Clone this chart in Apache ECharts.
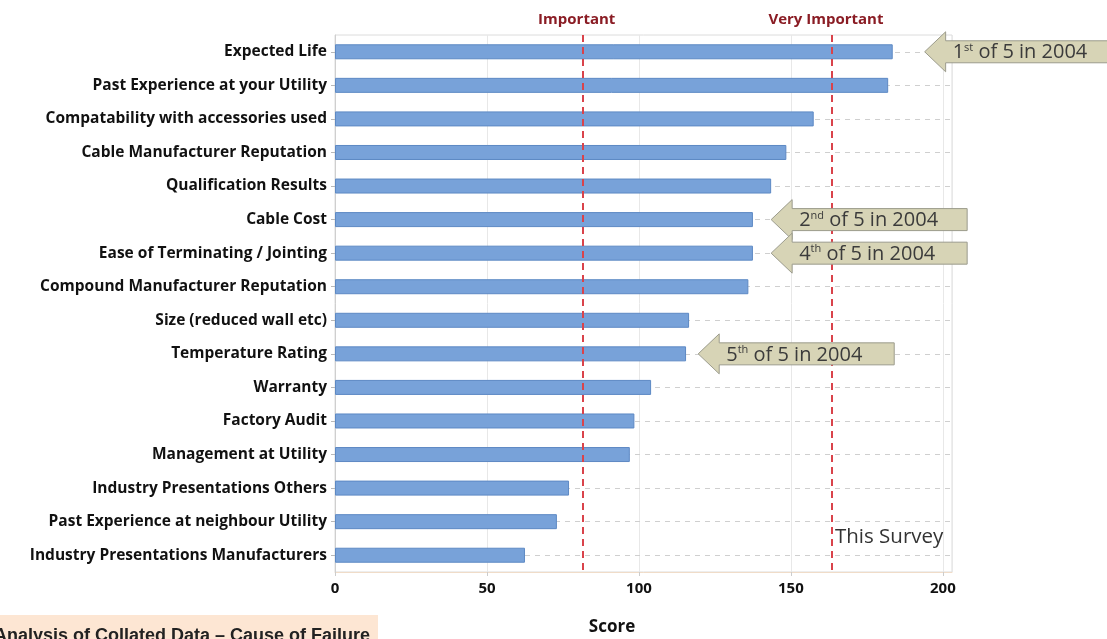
<!DOCTYPE html>
<html>
<head>
<meta charset="utf-8">
<script src="https://cdn.jsdelivr.net/npm/echarts@6/dist/echarts.min.js"></script>
<style>
  html, body { margin: 0; padding: 0; background: #fff; }
  #chart { width: 1107px; height: 639px; }
</style>
</head>
<body>
<div id="chart"></div>
<script>
// survey factors, top to bottom
var categories = [
  "Expected Life",
  "Past Experience at your Utility",
  "Compatability with accessories used",
  "Cable Manufacturer Reputation",
  "Qualification Results",
  "Cable Cost",
  "Ease of Terminating / Jointing",
  "Compound Manufacturer Reputation",
  "Size (reduced wall etc)",
  "Temperature Rating",
  "Warranty",
  "Factory Audit",
  "Management at Utility",
  "Industry Presentations Others",
  "Past Experience at neighbour Utility",
  "Industry Presentations Manufacturers"
];
var scores = [183.5, 182, 157.5, 148.5, 143.5, 137.5, 137.5, 136, 116.5, 115.5, 104, 98.5, 97, 77, 73, 62.5];

var xTicks = [0, 50, 100, 150, 200];
var thresholds = [81.5, 163.5];
var thresholdNames = ["Important", "Very Important"];

// 2004 ranks pointed out by the arrows
var notes = [
  { cat: "Expected Life", rank: "1", sup: "st" },
  { cat: "Cable Cost", rank: "2", sup: "nd" },
  { cat: "Ease of Terminating / Jointing", rank: "4", sup: "th" },
  { cat: "Temperature Rating", rank: "5", sup: "th" }
];

var chart = echarts.init(document.getElementById("chart"));
var boldFont = "'Liberation Sans', Arial, sans-serif";
var openFont = "'Open Sans', Lato, sans-serif";

var option = {
  animation: false,
  grid: {
    left: 335, right: 155, top: 35, bottom: 67,
    show: true, borderColor: "#dcdcdc", borderWidth: 1
  },
  xAxis: {
    type: "value",
    min: 0,
    max: 203,
    interval: 50,
    axisLine: { show: true, lineStyle: { color: "#f0dcc8" } },
    axisTick: { show: true, length: 4, lineStyle: { color: "#cccccc" } },
    axisLabel: {
      showMaxLabel: false,
      margin: 9,
      color: "#111",
      fontFamily: openFont,
      fontWeight: "bold",
      fontSize: 15,
      formatter: function (v) { return xTicks.indexOf(v) >= 0 ? String(v) : ""; }
    },
    splitLine: { show: true, lineStyle: { color: "#e8e8e8", width: 1 } }
  },
  yAxis: {
    type: "category",
    data: categories,
    inverse: true,
    axisLine: { show: true, lineStyle: { color: "#cfcfcf" } },
    axisTick: { show: true, alignWithLabel: true, length: 4, lineStyle: { color: "#b8b8b8" } },
    axisLabel: {
      margin: 8,
      color: "#111",
      fontFamily: openFont,
      fontWeight: "bold",
      fontSize: 15.5
    },
    splitLine: { show: false }
  },
  series: [
    {
      // dashed row guides behind the bars
      type: "line",
      data: [],
      z: 1,
      silent: true,
      markLine: {
        z: 1,
        symbol: "none",
        silent: true,
        label: { show: false },
        lineStyle: { color: "#cfcfcf", type: [5, 5], width: 1 },
        data: categories.map(function (c) { return { yAxis: c }; })
      }
    },
    {
      type: "bar",
      data: scores,
      barWidth: 15,
      z: 3,
      itemStyle: { color: "#78a2d9", borderColor: "#5d89c4", borderWidth: 1 },
      markLine: {
        z: 4,
        symbol: "none",
        silent: true,
        lineStyle: { color: "#d9434b", type: [7, 5], width: 2 },
        label: {
          show: true,
          position: "start",
          distance: 8,
          offset: [-6, 0],
          color: "#8a1c24",
          fontFamily: openFont,
          fontWeight: "bold",
          fontSize: 15,
          formatter: function (p) { return thresholdNames[p.dataIndex]; }
        },
        data: thresholds.map(function (t) { return { xAxis: t }; })
      }
    }
  ]
};
chart.setOption(option);

// arrows and the other free text
function drawNotes() {
  var els = [];
  var headLen = 21, headHalf = 20, bodyHalf = 11, bodyLen = 175;
  var tipAt = { "Expected Life": 194, "Cable Cost": 143.5, "Ease of Terminating / Jointing": 143.5, "Temperature Rating": 119.5 };
  notes.forEach(function (n) {
    var tx = chart.convertToPixel({ xAxisIndex: 0 }, tipAt[n.cat]);
    var ty = chart.convertToPixel({ yAxisIndex: 0 }, n.cat);
    var bx = tx + headLen;
    els.push({
      type: "polygon",
      shape: {
        points: [
          [tx, ty], [bx, ty - headHalf], [bx, ty - bodyHalf], [bx + bodyLen, ty - bodyHalf],
          [bx + bodyLen, ty + bodyHalf], [bx, ty + bodyHalf], [bx, ty + headHalf]
        ]
      },
      style: { fill: "#d7d4b6", stroke: "#9b9b8c", lineWidth: 1 },
      z: 10
    });
    els.push({
      type: "text",
      x: bx + 7,
      y: ty + 1,
      z: 11,
      style: {
        text: "{a|" + n.rank + "}{s|" + n.sup + "}{a| of 5 in 2004}",
        verticalAlign: "middle",
        rich: {
          a: { fontFamily: openFont, fontSize: 20, fill: "#3b3b3b" },
          s: { fontFamily: openFont, fontSize: 11, fill: "#3b3b3b", verticalAlign: "top", padding: [0, 0, 10, 0] }
        }
      }
    });
  });

  els.push({
    type: "text",
    x: chart.convertToPixel({ xAxisIndex: 0 }, thresholds[1]) + 3,
    y: chart.convertToPixel({ yAxisIndex: 0 }, categories[categories.length - 1]) - 18,
    style: { text: "This Survey", fontFamily: openFont, fontSize: 20.5, fill: "#333", verticalAlign: "middle" },
    z: 10
  });

  els.push({
    type: "text",
    x: 612, y: 627,
    style: { text: "Score", fontFamily: openFont, fontWeight: "bold", fontSize: 17, fill: "#111", align: "center", verticalAlign: "middle" }
  });

  // caption strip, cut by the bottom edge
  els.push({ type: "rect", shape: { x: 0, y: 615, width: 378, height: 30 }, style: { fill: "#fde6d3" } });
  els.push({
    type: "text",
    x: -6, y: 636,
    style: { text: "Analysis of Collated Data \u2013 Cause of Failure", fontFamily: boldFont, fontWeight: "bold", fontSize: 18, fill: "#222", verticalAlign: "middle" },
    z: 5
  });

  chart.setOption({ graphic: { elements: els } });
}
drawNotes();
</script>
</body>
</html>
